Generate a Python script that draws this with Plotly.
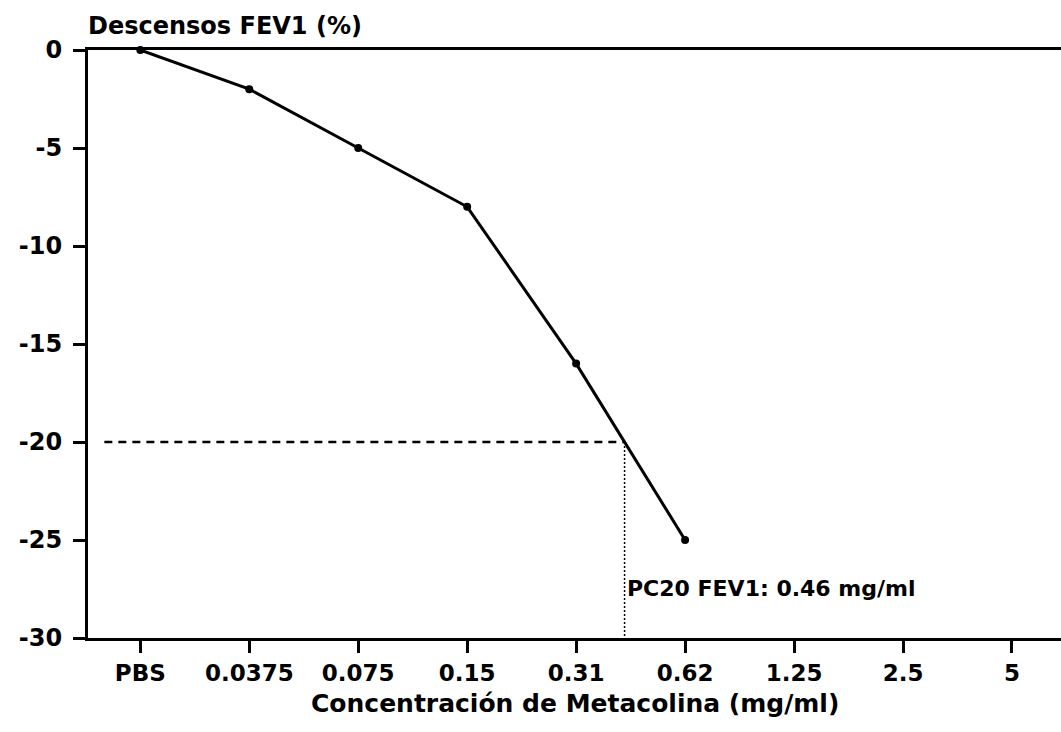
import plotly.graph_objects as go

categories = ["PBS", "0.0375", "0.075", "0.15", "0.31", "0.62", "1.25", "2.5", "5"]
fev1_drop = [0, -2, -5, -8, -16, -25]
threshold = -20
pc20_label = "PC20 FEV1: 0.46 mg/ml"
y_ticks = [0, -5, -10, -15, -20, -25, -30]
y_title = "Descensos FEV1 (%)"
x_title = "Concentración de Metacolina (mg/ml)"

x_idx = list(range(len(categories)))
# crossing index of the threshold between the last two points
i0 = len(fev1_drop) - 2
cross = i0 + (threshold - fev1_drop[i0]) / (fev1_drop[i0 + 1] - fev1_drop[i0])

FONT = "DejaVu Sans"

fig = go.Figure()
fig.add_trace(go.Scatter(
    x=x_idx[:len(fev1_drop)], y=fev1_drop, mode="lines+markers",
    line=dict(color="black", width=3),
    marker=dict(color="black", size=8),
    showlegend=False, cliponaxis=False,
))
# dashed horizontal at threshold
fig.add_trace(go.Scatter(
    x=[-0.33, cross], y=[threshold, threshold], mode="lines",
    line=dict(color="black", width=2.5, dash="8px,6px"), showlegend=False,
))
# dotted vertical
fig.add_trace(go.Scatter(
    x=[cross, cross], y=[threshold, y_ticks[-1]], mode="lines",
    line=dict(color="black", width=1.5, dash="2px,2px"), showlegend=False,
))

fig.update_layout(
    width=1061, height=732,
    margin=dict(l=88, r=0, t=50, b=94),
    paper_bgcolor="white", plot_bgcolor="white",
    font=dict(family=FONT, color="black", size=22),
    xaxis=dict(
        range=[-0.48, 8.45], tickmode="array", tickvals=x_idx, ticktext=categories,
        showgrid=False, zeroline=False, showline=True, linecolor="black", linewidth=3,
        mirror=True, ticks="outside", ticklen=12, tickwidth=2.5, tickcolor="black",
        tickfont=dict(family=FONT, size=23, weight="bold"), ticklabelstandoff=0,
    ),
    yaxis=dict(
        range=[-30, 0], tickmode="array", tickvals=y_ticks,
        ticktext=[str(v) for v in y_ticks],
        showgrid=False, zeroline=False, showline=True, linecolor="black", linewidth=3,
        ticks="outside", ticklen=12, tickwidth=2.5, tickcolor="black",
        tickfont=dict(family=FONT, size=24, weight="bold"), ticklabelstandoff=6,
    ),
    annotations=[
        dict(text=y_title, xref="paper", yref="paper", x=0.0, y=1.0,
             xshift=-2, yshift=8, xanchor="left", yanchor="bottom", showarrow=False,
             font=dict(family=FONT, size=24, weight="bold")),
        dict(text=x_title, xref="paper", yref="paper",
             x=0.5, y=0, yshift=-49, xanchor="center", yanchor="top",
             showarrow=False, font=dict(family=FONT, size=25, weight="bold")),
        dict(text=pc20_label, x=cross, y=-27.45, xanchor="left", yanchor="middle",
             xshift=0, showarrow=False, font=dict(family=FONT, size=22, weight="bold")),
    ],
)

fig.write_html("out.html")
